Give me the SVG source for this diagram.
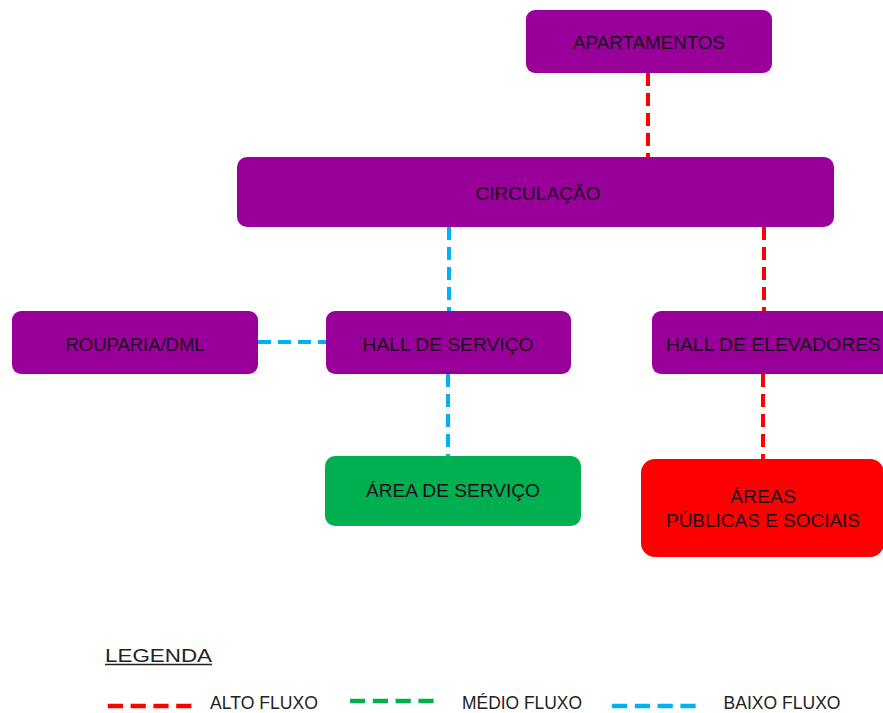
<svg xmlns="http://www.w3.org/2000/svg" width="883" height="713" viewBox="0 0 883 713">
  <style>
    .box { fill: #990099; }
    .green { fill: #00B050; }
    .red { fill: #FF0000; }
    .lbl { font-family: "Liberation Sans", Arial, sans-serif; font-size: 18px; fill: #1a0d1a; text-anchor: middle; }
    .leg { font-family: "Liberation Sans", Arial, sans-serif; font-size: 19px; fill: #222; }
    .c { fill: none; stroke-width: 4; stroke-dasharray: 13 7; }
    .lc { fill: none; stroke-width: 4.5; stroke-dasharray: 15.2 7.6; }
    .alto { stroke: #FF0000; }
    .medio { stroke: #00B050; }
    .baixo { stroke: #00B0F0; }
  </style>
  <rect width="883" height="713" fill="#ffffff"/>

  <!-- connectors -->
  <g id="connectors">
    <line class="c alto" x1="648" y1="73" x2="648" y2="157"/>
    <line class="c baixo" x1="449" y1="227" x2="449" y2="311"/>
    <line class="c alto" x1="764" y1="227" x2="764" y2="311"/>
    <line class="c baixo" x1="258" y1="342" x2="326" y2="342"/>
    <line class="c baixo" x1="448" y1="374" x2="448" y2="456"/>
    <line class="c alto" x1="763" y1="374" x2="763" y2="459"/>
  </g>

  <g id="apartamentos">
    <rect class="box" x="526" y="10" width="246" height="63" rx="9"/>
    <text class="lbl" x="649" y="49" textLength="152" lengthAdjust="spacingAndGlyphs">APARTAMENTOS</text>
  </g>

  <g id="circulacao">
    <rect class="box" x="237" y="157" width="597" height="70" rx="10"/>
    <text class="lbl" x="538" y="200" textLength="125" lengthAdjust="spacingAndGlyphs">CIRCULAÇÃO</text>
  </g>

  <g id="rouparia">
    <rect class="box" x="12" y="311" width="246" height="63" rx="9"/>
    <text class="lbl" x="135" y="351" textLength="139" lengthAdjust="spacingAndGlyphs">ROUPARIA/DML</text>
  </g>

  <g id="hall-servico">
    <rect class="box" x="326" y="311" width="245" height="63" rx="9"/>
    <text class="lbl" x="448" y="351" textLength="171" lengthAdjust="spacingAndGlyphs">HALL DE SERVIÇO</text>
  </g>

  <g id="hall-elevadores">
    <rect class="box" x="652" y="311" width="246" height="63" rx="9"/>
    <text class="lbl" x="773.5" y="351" textLength="215" lengthAdjust="spacingAndGlyphs">HALL DE ELEVADORES</text>
  </g>

  <g id="area-servico">
    <rect class="green" x="325" y="456" width="256" height="70" rx="10"/>
    <text class="lbl" x="453" y="497" textLength="174" lengthAdjust="spacingAndGlyphs">ÁREA DE SERVIÇO</text>
  </g>

  <g id="areas-publicas">
    <rect class="red" x="641" y="459" width="243" height="98" rx="14"/>
    <text class="lbl" x="763" y="503" textLength="66" lengthAdjust="spacingAndGlyphs">ÁREAS</text>
    <text class="lbl" x="763" y="527" textLength="194" lengthAdjust="spacingAndGlyphs">PÚBLICAS E SOCIAIS</text>
  </g>

  <!-- legend -->
  <g id="legenda">
    <text class="leg" x="105" y="662" font-size="21" textLength="107" lengthAdjust="spacingAndGlyphs">LEGENDA</text>
    <line x1="105" y1="664.5" x2="212" y2="664.5" stroke="#222" stroke-width="1.5"/>

    <line class="lc alto" x1="107.8" y1="706" x2="198.5" y2="706"/>
    <text class="leg" x="210" y="709" textLength="108" lengthAdjust="spacingAndGlyphs">ALTO FLUXO</text>

    <line class="lc medio" x1="350" y1="701" x2="440" y2="701"/>
    <text class="leg" x="462" y="709" textLength="120" lengthAdjust="spacingAndGlyphs">MÉDIO FLUXO</text>

    <line class="lc baixo" x1="612" y1="706" x2="700" y2="706"/>
    <text class="leg" x="723.5" y="709" textLength="117" lengthAdjust="spacingAndGlyphs">BAIXO FLUXO</text>
  </g>
</svg>
